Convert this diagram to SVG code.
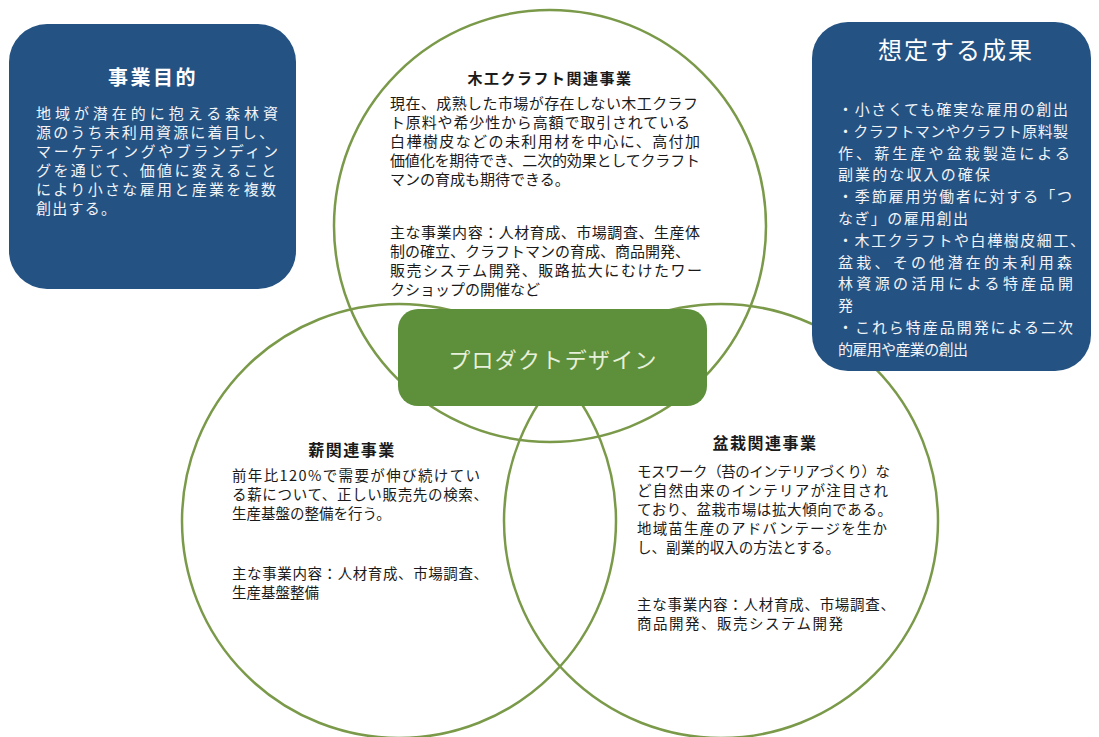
<svg xmlns="http://www.w3.org/2000/svg" width="1099" height="737" viewBox="0 0 1099 737">
<style>
text{font-family:"Noto Sans CJK JP","Noto Sans CJK SC",sans-serif;dominant-baseline:central}
.ring{fill:none;stroke:#7a9a4a;stroke-width:2.5}
.blue{fill:#245283}
.green{fill:#5e8f3b}
.wt{fill:#ffffff}
.bt{fill:#ffffff;font-size:20px;font-weight:bold;letter-spacing:2.5px}
.bb{fill:#f2f4f8;font-size:15px}
.ct{fill:#1a1a1a;font-size:15px;font-weight:bold;letter-spacing:1.5px}
.cb{fill:#1a1a1a;font-size:14.5px}
</style>
<rect width="1099" height="737" fill="#ffffff"/>
<g id="connectors"/>
<g id="circle-wood"><circle class="ring" cx="550" cy="226" r="216"/></g>
<g id="circle-firewood"><circle class="ring" cx="399" cy="521" r="217"/></g>
<g id="circle-bonsai"><circle class="ring" cx="721" cy="521" r="217"/></g>

<g id="box-purpose">
<rect class="blue" x="9" y="24" width="287" height="265" rx="38"/>
<text class="bt" x="153" y="76" text-anchor="middle">事業目的</text>
<text class="bb" x="36" y="112" textLength="242" lengthAdjust="spacing">地域が潜在的に抱える森林資</text>
<text class="bb" x="36" y="131" textLength="238" lengthAdjust="spacing">源のうち未利用資源に着目し、</text>
<text class="bb" x="36" y="150" textLength="242" lengthAdjust="spacing">マーケティングやブランディン</text>
<text class="bb" x="36" y="169" textLength="240" lengthAdjust="spacing">グを通じて、価値に変えること</text>
<text class="bb" x="36" y="188" textLength="240" lengthAdjust="spacing">により小さな雇用と産業を複数</text>
<text class="bb" x="36" y="207" textLength="80" lengthAdjust="spacing">創出する。</text>
</g>

<g id="box-outcome">
<rect class="blue" x="812" y="22" width="279" height="349" rx="36"/>
<text class="wt" x="956" y="48" text-anchor="middle" style="font-size:24px;letter-spacing:2px">想定する成果</text>
<g class="bb">
<text x="838" y="108" textLength="230" lengthAdjust="spacing">・小さくても確実な雇用の創出</text>
<text x="838" y="130" textLength="230" lengthAdjust="spacing">・クラフトマンやクラフト原料製</text>
<text x="838" y="152" textLength="232" lengthAdjust="spacing">作、薪生産や盆栽製造による</text>
<text x="838" y="173" textLength="152" lengthAdjust="spacing">副業的な収入の確保</text>
<text x="838" y="195" textLength="234" lengthAdjust="spacing">・季節雇用労働者に対する「つ</text>
<text x="838" y="217" textLength="130" lengthAdjust="spacing">なぎ」の雇用創出</text>
<text x="838" y="239" textLength="247" lengthAdjust="spacing">・木工クラフトや白樺樹皮細工、</text>
<text x="838" y="261" textLength="234" lengthAdjust="spacing">盆栽、その他潜在的未利用森</text>
<text x="838" y="282" textLength="235" lengthAdjust="spacing">林資源の活用による特産品開</text>
<text x="838" y="304">発</text>
<text x="838" y="326" textLength="235" lengthAdjust="spacing">・これら特産品開発による二次</text>
<text x="838" y="348" textLength="130" lengthAdjust="spacing">的雇用や産業の創出</text>
</g>
</g>

<g id="text-wood">
<text class="ct" x="550" y="77" text-anchor="middle">木工クラフト関連事業</text>
<g class="cb" style="font-size:15px">
<text x="390" y="102" textLength="308" lengthAdjust="spacing">現在、成熟した市場が存在しない木工クラフ</text>
<text x="390" y="121" textLength="300" lengthAdjust="spacing">ト原料や希少性から高額で取引されている</text>
<text x="390" y="140" textLength="310" lengthAdjust="spacing">白樺樹皮などの未利用材を中心に、高付加</text>
<text x="390" y="159" textLength="310" lengthAdjust="spacing">価値化を期待でき、二次的効果としてクラフト</text>
<text x="390" y="178">マンの育成も期待できる。</text>
<text x="390" y="231" textLength="310" lengthAdjust="spacing">主な事業内容：人材育成、市場調査、生産体</text>
<text x="390" y="250" textLength="300" lengthAdjust="spacing">制の確立、クラフトマンの育成、商品開発、</text>
<text x="390" y="269" textLength="312" lengthAdjust="spacing">販売システム開発、販路拡大にむけたワー</text>
<text x="390" y="288">クショップの開催など</text>
</g>
</g>

<g id="product-design">
<rect class="green" x="398" y="309" width="309" height="97" rx="20"/>
<text x="553" y="358" text-anchor="middle" style="fill:#e6f0da;font-size:22px;letter-spacing:1.3px">プロダクトデザイン</text>
</g>

<g id="text-firewood">
<text class="ct" x="352" y="449" text-anchor="middle" style="font-size:16px">薪関連事業</text>
<g class="cb">
<text x="232" y="474" textLength="248" lengthAdjust="spacing">前年比120%で需要が伸び続けてい</text>
<text x="232" y="493" textLength="256" lengthAdjust="spacing">る薪について、正しい販売先の検索、</text>
<text x="232" y="512">生産基盤の整備を行う。</text>
<text x="232" y="572" textLength="256" lengthAdjust="spacing">主な事業内容：人材育成、市場調査、</text>
<text x="232" y="591">生産基盤整備</text>
</g>
</g>

<g id="text-bonsai">
<text class="ct" x="765" y="442" text-anchor="middle" style="font-size:16px">盆栽関連事業</text>
<g class="cb">
<text x="637" y="470" textLength="253" lengthAdjust="spacing">モスワーク（苔のインテリアづくり）な</text>
<text x="637" y="489" textLength="251" lengthAdjust="spacing">ど自然由来のインテリアが注目され</text>
<text x="637" y="508" textLength="255" lengthAdjust="spacing">ており、盆栽市場は拡大傾向である。</text>
<text x="637" y="527" textLength="250" lengthAdjust="spacing">地域苗生産のアドバンテージを生か</text>
<text x="637" y="546" textLength="203" lengthAdjust="spacing">し、副業的収入の方法とする。</text>
<text x="637" y="603" textLength="258" lengthAdjust="spacing">主な事業内容：人材育成、市場調査、</text>
<text x="637" y="622" textLength="206" lengthAdjust="spacing">商品開発、販売システム開発</text>
</g>
</g>
</svg>
